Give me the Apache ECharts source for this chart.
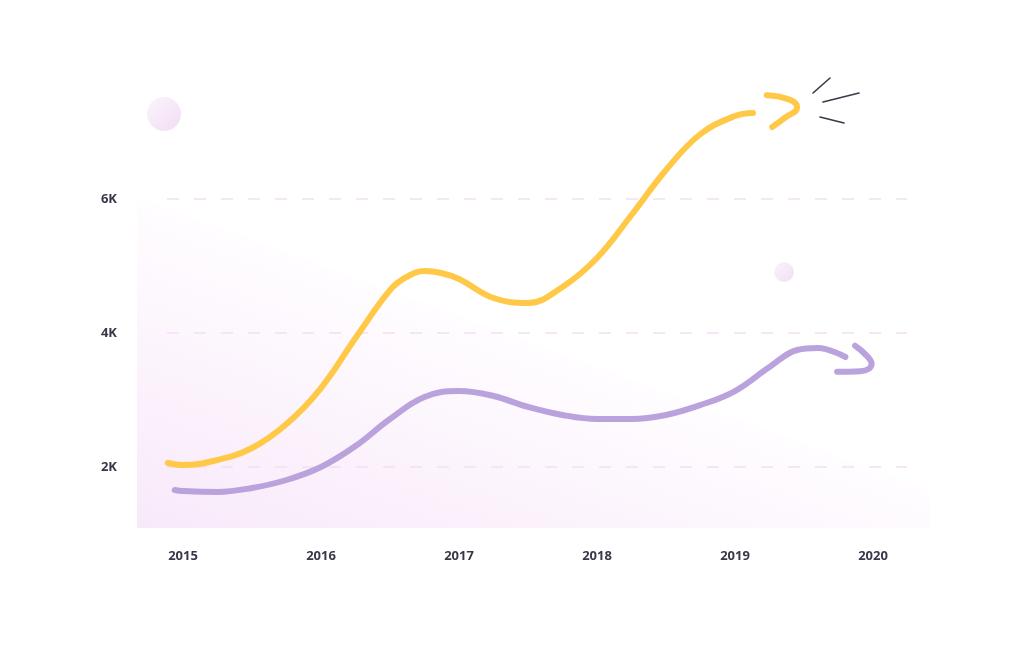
<!DOCTYPE html>
<html lang="en">
<head>
  <meta charset="UTF-8" />
  <title>Growth chart</title>
  <script src="https://cdn.jsdelivr.net/npm/echarts@6/dist/echarts.min.js"></script>
  <style>
    html, body {
      margin: 0;
      padding: 0;
      background: #fff;
    }

    #chart {
      width: 1024px;
      height: 649px;
    }
  </style>
</head>
<body>
  <div id="chart"></div>

  <script>
    // years on the x axis
    const years = [2015, 2016, 2017, 2018, 2019, 2020];
    const yTicks = [2000, 4000, 6000];

    // curves as [year, value]
    const yellowLine = [
      [2014.89, 2060], [2015.0, 2030], [2015.25, 2105], [2015.5, 2284],
      [2015.75, 2642], [2016.0, 3179], [2016.25, 3925], [2016.5, 4640],
      [2016.62, 4836], [2016.75, 4925], [2016.87, 4896], [2017.0, 4806],
      [2017.25, 4522], [2017.5, 4448], [2017.75, 4687], [2018.0, 5119],
      [2018.25, 5761], [2018.5, 6433], [2018.75, 6970], [2019.0, 7239],
      [2019.13, 7284]
    ];
    const yellowHead = [
      [2019.23, 7550], [2019.4, 7480], [2019.45, 7370], [2019.36, 7210], [2019.27, 7075]
    ];

    const purpleLine = [
      [2014.94, 1657], [2015.0, 1642], [2015.25, 1627], [2015.5, 1687],
      [2015.75, 1806], [2016.0, 2000], [2016.25, 2313], [2016.5, 2716],
      [2016.75, 3045], [2017.0, 3134], [2017.25, 3060], [2017.5, 2896],
      [2017.75, 2776], [2018.0, 2716], [2018.25, 2716], [2018.5, 2776],
      [2018.75, 2925], [2019.0, 3134], [2019.25, 3493], [2019.45, 3746],
      [2019.6, 3776], [2019.8, 3642]
    ];
    const purpleHead = [
      [2019.87, 3810], [2019.95, 3670], [2019.99, 3540], [2019.91, 3430], [2019.74, 3420]
    ];

    const YELLOW = '#ffc846';
    const PURPLE = '#baa2dc';
    const TEXT = '#3a3848';

    const chart = echarts.init(document.getElementById('chart'));

    function curve(data, color, smooth) {
      return {
        type: 'line',
        data: data,
        smooth: smooth,
        symbol: 'none',
        clip: false,
        silent: true,
        lineStyle: { color: color, width: 6, cap: 'round', join: 'round' }
      };
    }

    function blob(cx, cy, r) {
      return {
        type: 'circle',
        shape: { cx: cx, cy: cy, r: r },
        style: {
          fill: new echarts.graphic.LinearGradient(0, 0, 1, 1, [
            { offset: 0, color: '#fbf4fc' },
            { offset: 1, color: '#f1ddf4' }
          ])
        },
        z: -1
      };
    }

    function stroke(x1, y1, x2, y2) {
      return {
        type: 'line',
        shape: { x1: x1, y1: y1, x2: x2, y2: y2 },
        style: { stroke: TEXT, lineWidth: 1.6, lineCap: 'round' }
      };
    }

    const labelStyle = {
      color: TEXT,
      fontFamily: 'Open Sans',
      fontWeight: 700,
      fontSize: 13
    };

    const option = {
      animation: false,
      grid: { left: 167, right: 117, top: 199, bottom: 182 },
      xAxis: {
        type: 'value',
        // 2015 sits 16px right of the grid edge, 2020 34px left of it
        min: 2015 - 16 / 138,
        max: 2020 + 34 / 138,
        axisLine: { show: false },
        axisTick: { show: false },
        splitLine: { show: false },
        axisLabel: Object.assign({
          margin: 83,
          customValues: years,
          formatter: v => String(v)
        }, labelStyle)
      },
      yAxis: {
        type: 'value',
        min: yTicks[0],
        max: yTicks[yTicks.length - 1],
        interval: 2000,
        axisLine: { show: false },
        axisTick: { show: false },
        axisLabel: Object.assign({
          margin: 50,
          formatter: v => v / 1000 + 'K'
        }, labelStyle),
        splitLine: {
          lineStyle: { color: '#f2dff3', width: 1.5, type: [12, 15] }
        }
      },
      series: [
        curve(yellowLine, YELLOW, 0.4),
        curve(yellowHead, YELLOW, 0.5),
        curve(purpleLine, PURPLE, 0.4),
        curve(purpleHead, PURPLE, 0.5)
      ],
      graphic: [
        {
          // soft purple wedge behind the plot, shaded away from its diagonal
          type: 'polygon',
          shape: { points: [[137, 197], [137, 528], [930, 528], [930, 490]] },
          style: {
            fill: new echarts.graphic.LinearGradient(244, 237, 137, 528, [
              { offset: 0, color: '#fffdff' },
              { offset: 1, color: '#f8e9fa' }
            ], true)
          },
          z: -2
        },
        blob(164, 114, 17),
        blob(784, 272, 10),
        stroke(813, 93, 830, 78),
        stroke(823, 102, 859, 93),
        stroke(820, 117, 844, 123)
      ]
    };

    chart.setOption(option);
  </script>
</body>
</html>
